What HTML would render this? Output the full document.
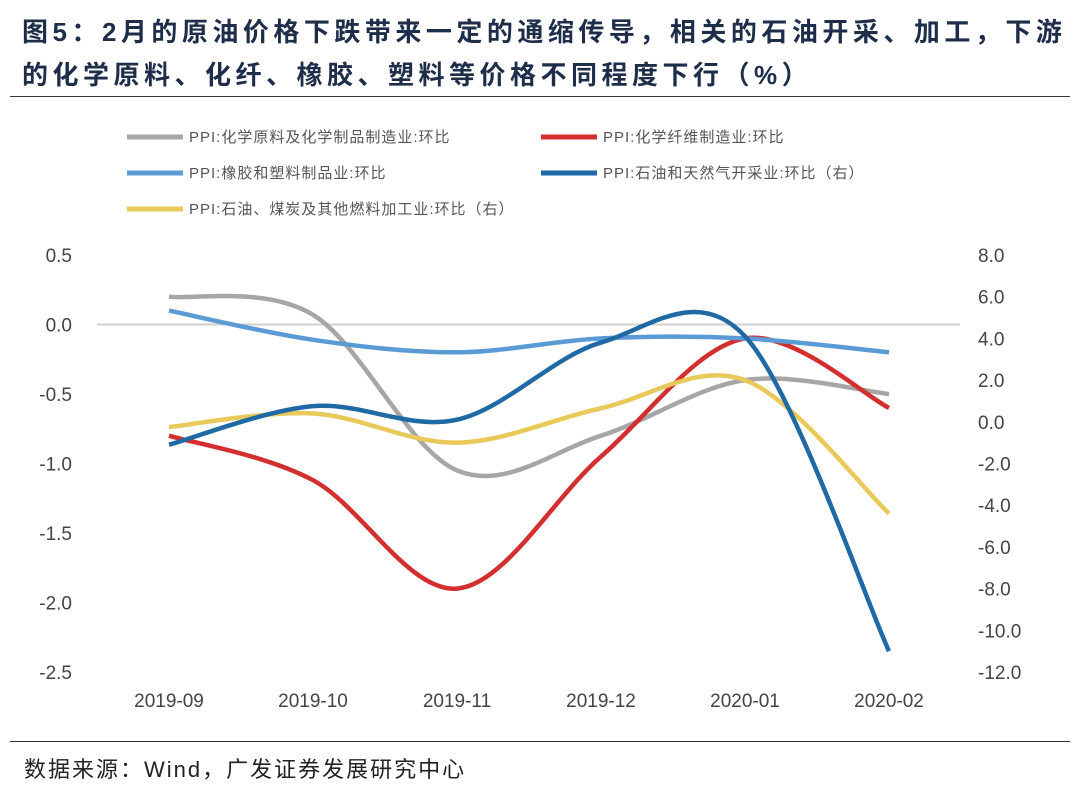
<!DOCTYPE html>
<html><head><meta charset="utf-8"><style>
body{margin:0;background:#fff;width:1080px;height:787px;overflow:hidden;font-family:"Liberation Sans","Noto Sans CJK SC",sans-serif}
.t{position:absolute;left:22px;font-weight:bold;font-size:26px;color:#1e2d4a;letter-spacing:4.5px;white-space:nowrap}
</style></head><body>
<div class="t" style="top:12px">图5：2月的原油价格下跌带来一定的通缩传导，相关的石油开采、加工，下游</div>
<div class="t" style="top:55px">的化学原料、化纤、橡胶、塑料等价格不同程度下行（%）</div>
<div style="position:absolute;left:10px;top:96px;width:1060px;height:1px;background:#333"></div>
<div style="position:absolute;left:10px;top:741px;width:1060px;height:1px;background:#333"></div>
<div style="position:absolute;left:24px;top:752px;font-size:22px;letter-spacing:2px;color:#222">数据来源：Wind，广发证券发展研究中心</div>
<svg id="c" width="1080" height="787" style="position:absolute;left:0;top:0"></svg>
<script>
const categories=["2019-09","2019-10","2019-11","2019-12","2020-01","2020-02"];
const leftTicks=["0.5","0.0","-0.5","-1.0","-1.5","-2.0","-2.5"];
const rightTicks=["8.0","6.0","4.0","2.0","0.0","-2.0","-4.0","-6.0","-8.0","-10.0","-12.0"];
const chemRaw=[0.2,0.07,-1.05,-0.8,-0.4,-0.5];
const chemFiber=[-0.8,-1.12,-1.9,-0.95,-0.1,-0.6];
const rubberPlastic=[0.1,-0.11,-0.2,-0.1,-0.1,-0.2];
const oilGas=[-1.1,0.75,0.1,3.8,4.1,-11.0];
const oilProc=[-0.25,0.4,-1.0,0.65,2.0,-4.4];
const names=["PPI:化学原料及化学制品制造业:环比","PPI:化学纤维制造业:环比","PPI:橡胶和塑料制品业:环比","PPI:石油和天然气开采业:环比（右）","PPI:石油、煤炭及其他燃料加工业:环比（右）"];
const svg=document.getElementById('c');const NS="http://www.w3.org/2000/svg";
function yl(v){return 255+(0.5-v)*139;}
function yr(v){return 255+(8-v)*20.85;}
function x(i){return 169+i*144;}
function mk(t,a,txt){const e=document.createElementNS(NS,t);for(const k in a)e.setAttribute(k,a[k]);if(txt!=null)e.textContent=txt;svg.appendChild(e);return e;}
let z=mk('line',{x1:97,x2:960,y1:yl(0),y2:yl(0),stroke:'#d0d0d0','stroke-width':2});


leftTicks.forEach(s=>{const e=mk('text',{x:72,y:yl(parseFloat(s))+7,'text-anchor':'end','font-size':19,fill:'#444'},s);

});
rightTicks.forEach(s=>{const e=mk('text',{x:978,y:yr(parseFloat(s))+7,'font-size':19,fill:'#444'},s);

});
categories.forEach((c,i)=>{const e=mk('text',{x:x(i),y:707,'text-anchor':'middle','font-size':19,fill:'#444'},c);

});
function path(vals,fy){const p=vals.map((v,i)=>[x(i),fy(v)]);let d=`M${p[0][0]},${p[0][1]}`;
for(let i=0;i<p.length-1;i++){const p0=p[i-1]||p[i],p1=p[i],p2=p[i+1],p3=p[i+2]||p2;
d+=` C${p1[0]+(p2[0]-p0[0])/6},${p1[1]+(p2[1]-p0[1])/6} ${p2[0]-(p3[0]-p1[0])/6},${p2[1]-(p3[1]-p1[1])/6} ${p2[0]},${p2[1]}`;}return d;}
const series=[[chemRaw,yl,'#a6a6a6','series-chem-raw'],[chemFiber,yl,'#d32f2f','series-chem-fiber'],[rubberPlastic,yl,'#5b9bd5','series-rubber-plastic'],[oilProc,yr,'#e8c95a','series-oil-processing'],[oilGas,yr,'#1f6aa5','series-oil-gas']];
series.forEach(s=>{const e=mk('path',{d:path(s[0],s[1]),fill:'none',stroke:s[2],'stroke-width':4.5});

});
const leg=[[127,137,'#a6a6a6',0],[541,137,'#d32f2f',1],[127,173,'#5b9bd5',2],[541,173,'#1f6aa5',3],[127,209,'#e8c95a',4]];
leg.forEach(l=>{const a=mk('line',{x1:l[0],x2:l[0]+56,y1:l[1],y2:l[1],stroke:l[2],'stroke-width':5});


const t=mk('text',{x:l[0]+62,y:l[1]+5,'font-size':15,'letter-spacing':1,fill:'#555'},names[l[3]]);

});
</script>
</body></html>
